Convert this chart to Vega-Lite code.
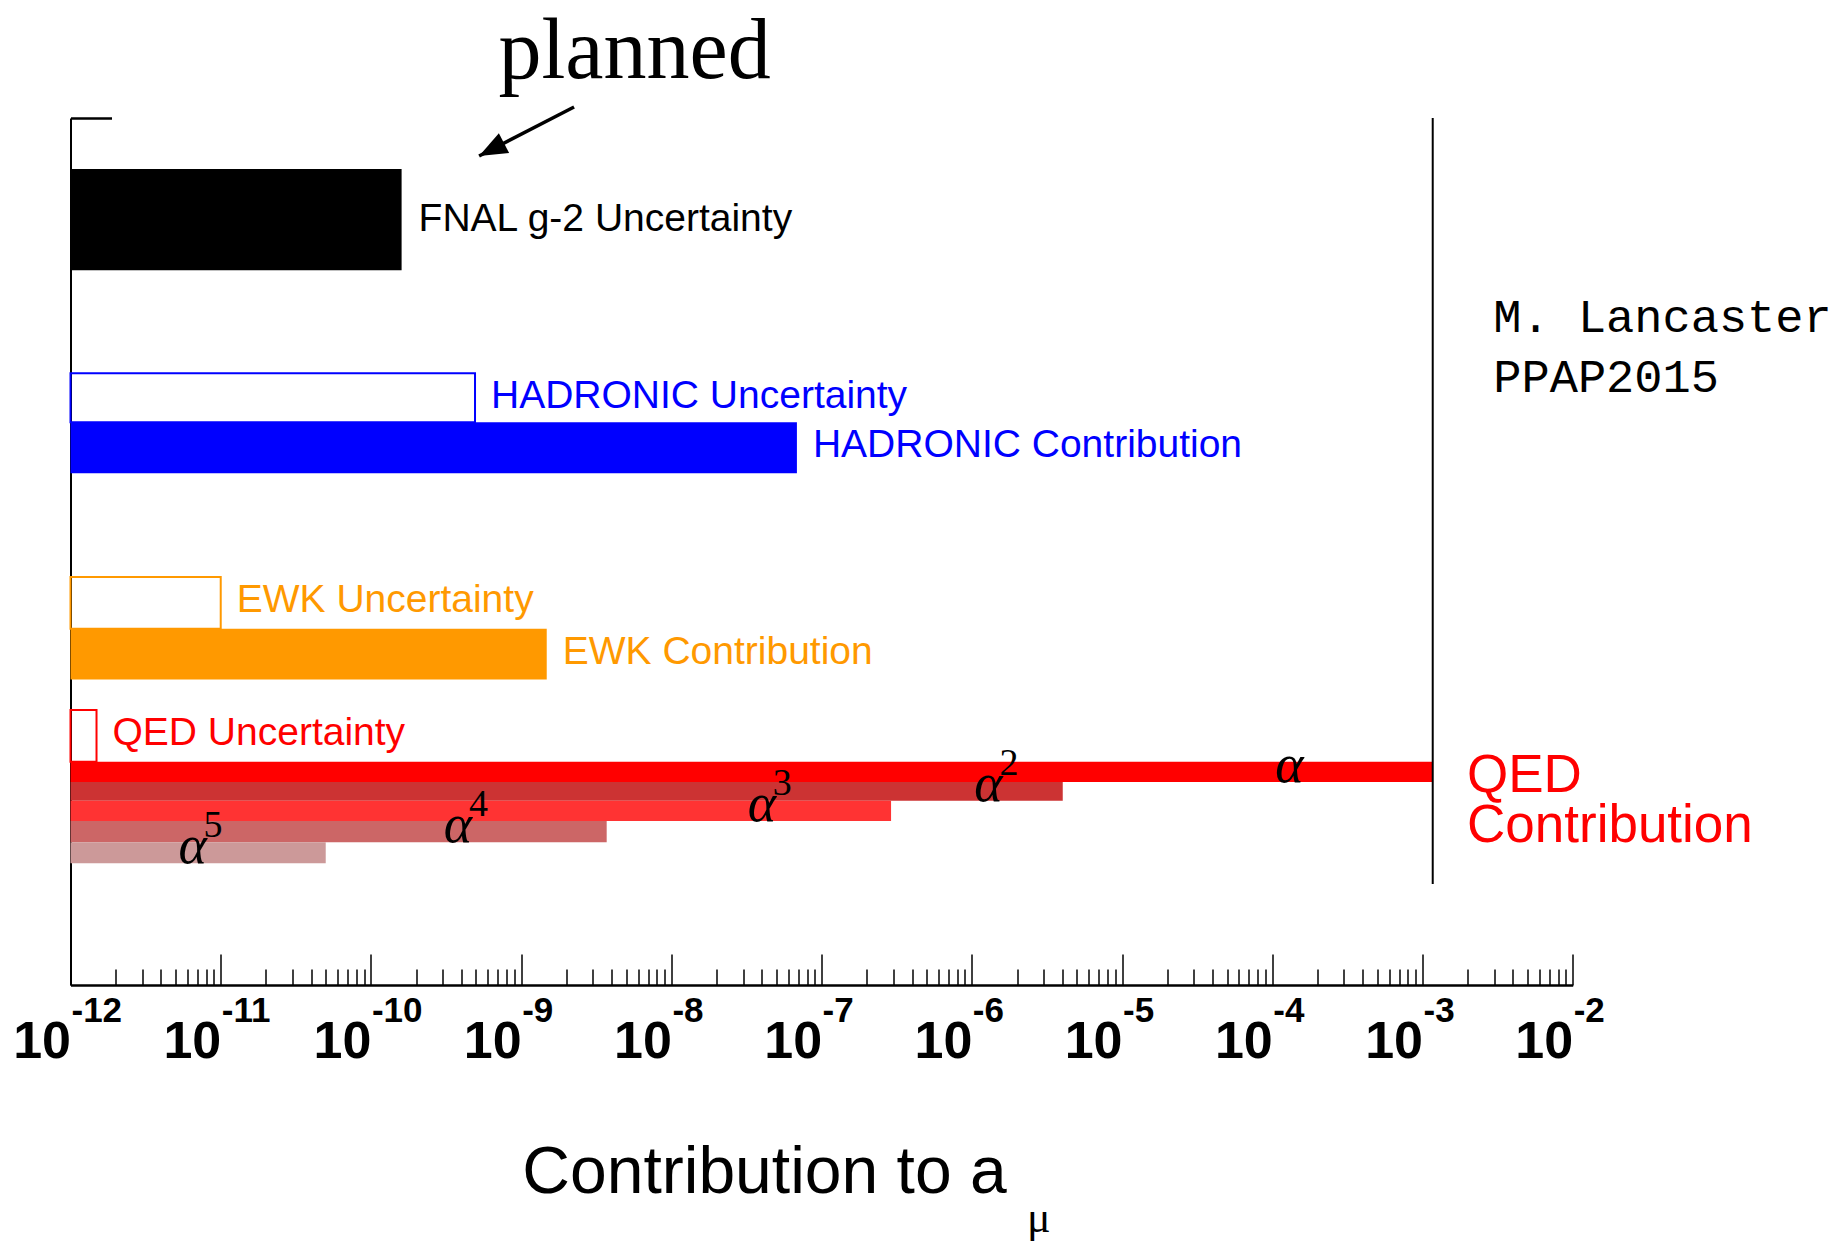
{
  "$schema": "https://vega.github.io/schema/vega-lite/v6.json",
  "width": 1502.2,
  "height": 867,
  "padding": {"left": 70.5, "top": 118, "right": 270.3, "bottom": 256},
  "autosize": {"type": "none"},
  "background": "white",
  "config": {"view": {"stroke": null}, "axis": {"grid": false}},
  "datasets": {
    "bars": [
      {"item": "FNAL g-2 Uncertainty", "group": "FNAL", "kind": "fnal", "value": 1.6e-10, "y0": 2.51, "y1": 7.5},
      {"item": "HADRONIC Uncertainty", "group": "HADRONIC", "kind": "unc", "value": 4.93e-10, "y0": 12.58, "y1": 14.99},
      {"item": "HADRONIC Contribution", "group": "HADRONIC", "kind": "contr", "value": 6.85e-8, "y0": 14.99, "y1": 17.5},
      {"item": "EWK Uncertainty", "group": "EWK", "kind": "unc", "value": 1.0e-11, "y0": 22.61, "y1": 25.16},
      {"item": "EWK Contribution", "group": "EWK", "kind": "contr", "value": 1.48e-9, "y0": 25.16, "y1": 27.66},
      {"item": "QED Uncertainty", "group": "QED", "kind": "unc", "value": 1.49e-12, "y0": 29.16, "y1": 31.71}
    ],
    "orders": [
      {"order": "α", "exp": "", "value": 1.17e-3, "y0": 31.71, "y1": 32.71, "label_x": 1.3e-4},
      {"order": "α²", "exp": "2", "value": 4.03e-6, "y0": 32.71, "y1": 33.63, "label_x": 1.29e-6},
      {"order": "α³", "exp": "3", "value": 2.9e-7, "y0": 33.63, "y1": 34.63, "label_x": 4.0e-8},
      {"order": "α⁴", "exp": "4", "value": 3.71e-9, "y0": 34.63, "y1": 35.68, "label_x": 3.8e-10},
      {"order": "α⁵", "exp": "5", "value": 5.0e-11, "y0": 35.68, "y1": 36.71, "label_x": 6.5e-12}
    ]
  },
  "resolve": {"scale": {"color": "independent"}},
  "layer": [
    {
      "data": {"name": "bars"},
      "transform": [{"filter": "datum.kind === 'unc'"}],
      "mark": {"type": "rect", "filled": false, "strokeWidth": 2},
      "encoding": {
        "x": {
          "field": "value", "type": "quantitative",
          "scale": {"type": "log", "domain": [1e-12, 1e-2], "nice": false},
          "axis": {
            "title": "Contribution to a",
            "values": [1e-12,2e-12,3e-12,4e-12,5e-12,6e-12,7e-12,8e-12,9e-12,1e-11,2e-11,3e-11,4e-11,5e-11,6e-11,7e-11,8e-11,9e-11,1e-10,2e-10,3e-10,4e-10,5e-10,6e-10,7e-10,8e-10,9e-10,1e-9,2e-9,3e-9,4e-9,5e-9,6e-9,7e-9,8e-9,9e-9,1e-8,2e-8,3e-8,4e-8,5e-8,6e-8,7e-8,8e-8,9e-8,1e-7,2e-7,3e-7,4e-7,5e-7,6e-7,7e-7,8e-7,9e-7,1e-6,2e-6,3e-6,4e-6,5e-6,6e-6,7e-6,8e-6,9e-6,1e-5,2e-5,3e-5,4e-5,5e-5,6e-5,7e-5,8e-5,9e-5,1e-4,2e-4,3e-4,4e-4,5e-4,6e-4,7e-4,8e-4,9e-4,1e-3,2e-3,3e-3,4e-3,5e-3,6e-3,7e-3,8e-3,9e-3,1e-2],
            "labelExpr": "abs(log(datum.value)/LN10 - round(log(datum.value)/LN10)) < 0.001 ? '10' : ''",
            "labelAlign": "right",
            "labelBaseline": "alphabetic",
            "labelFont": "Liberation Sans",
            "labelFontWeight": "bold",
            "labelFontSize": 52,
            "labelColor": "black",
            "labelPadding": 103,
            "labelFlush": false,
            "labelOverlap": false,
            "labelBound": false,
            "tickSize": {"condition": {"test": "abs(log(datum.value)/LN10 - round(log(datum.value)/LN10)) < 0.001", "value": -31}, "value": -16},
            "tickColor": "black",
            "tickWidth": 1.5,
            "domainColor": "black",
            "domainWidth": 2.5,
            "titleFont": "Liberation Sans",
            "titleFontSize": 66,
            "titleFontWeight": "normal",
            "titleColor": "black",
            "titleX": 693.5,
            "titleY": 207,
            "titleAlign": "center",
            "titleBaseline": "alphabetic",
            "grid": false
          }
        },
        "x2": {"datum": 1e-12},
        "y": {
          "field": "y0", "type": "quantitative",
          "scale": {"domain": [0, 42.71], "reverse": true, "nice": false, "zero": false},
          "axis": {"title": null, "values": [0], "labels": false, "tickSize": -41, "tickWidth": 2.5, "tickColor": "black", "domainColor": "black", "domainWidth": 2, "grid": false}
        },
        "y2": {"field": "y1"},
        "color": {
          "field": "group", "type": "nominal",
          "scale": {"domain": ["FNAL", "HADRONIC", "EWK", "QED"], "range": ["#000000", "#0000ff", "#ff9900", "#ff0000"]},
          "legend": null
        }
      }
    },
    {
      "data": {"name": "bars"},
      "transform": [{"filter": "datum.kind !== 'unc'"}],
      "mark": {"type": "rect"},
      "encoding": {
        "x": {"field": "value", "type": "quantitative"},
        "x2": {"datum": 1e-12},
        "y": {"field": "y0", "type": "quantitative"},
        "y2": {"field": "y1"},
        "color": {
          "field": "group", "type": "nominal",
          "scale": {"domain": ["FNAL", "HADRONIC", "EWK", "QED"], "range": ["#000000", "#0000ff", "#ff9900", "#ff0000"]},
          "legend": null
        }
      }
    },
    {
      "data": {"name": "orders"},
      "mark": {"type": "rect"},
      "encoding": {
        "x": {"field": "value", "type": "quantitative"},
        "x2": {"datum": 1e-12},
        "y": {"field": "y0", "type": "quantitative"},
        "y2": {"field": "y1"},
        "color": {
          "field": "order", "type": "nominal",
          "scale": {"domain": ["α", "α²", "α³", "α⁴", "α⁵"], "range": ["#ff0000", "#cc3333", "#ff3333", "#cc6666", "#cc9999"]},
          "legend": null
        }
      }
    },
    {
      "data": {"name": "orders"},
      "transform": [{"filter": "datum.order === 'α'"}],
      "mark": {"type": "rule", "strokeWidth": 2, "color": "black"},
      "encoding": {
        "x": {"field": "value", "type": "quantitative"},
        "y": {"datum": 0},
        "y2": {"datum": 37.73}
      }
    },
    {
      "data": {"name": "bars"},
      "transform": [{"filter": "datum.kind !== 'fnal'"}],
      "mark": {"type": "text", "align": "left", "baseline": "middle", "dx": 16, "dy": 23, "font": "Liberation Sans", "fontSize": 39},
      "encoding": {
        "x": {"field": "value", "type": "quantitative"},
        "y": {"field": "y0", "type": "quantitative"},
        "text": {"field": "item"},
        "color": {
          "field": "group", "type": "nominal",
          "scale": {"domain": ["FNAL", "HADRONIC", "EWK", "QED"], "range": ["#000000", "#0000ff", "#ff9900", "#ff0000"]},
          "legend": null
        }
      }
    },
    {
      "data": {"name": "bars"},
      "transform": [{"filter": "datum.kind === 'fnal'"}],
      "mark": {"type": "text", "align": "left", "baseline": "middle", "dx": 17, "dy": 50, "font": "Liberation Sans", "fontSize": 39, "color": "black"},
      "encoding": {
        "x": {"field": "value", "type": "quantitative"},
        "y": {"field": "y0", "type": "quantitative"},
        "text": {"field": "item"}
      }
    },
    {
      "data": {"name": "orders"},
      "mark": {"type": "text", "text": "α", "align": "center", "baseline": "alphabetic", "font": "Liberation Serif", "fontStyle": "italic", "fontSize": 54, "color": "black"},
      "encoding": {
        "x": {"field": "label_x", "type": "quantitative"},
        "y": {"field": "y1", "type": "quantitative"}
      }
    },
    {
      "data": {"name": "orders"},
      "transform": [{"filter": "datum.exp !== ''"}],
      "mark": {"type": "text", "align": "left", "baseline": "alphabetic", "dx": 11, "dy": -26, "font": "Liberation Serif", "fontSize": 38, "color": "black"},
      "encoding": {
        "x": {"field": "label_x", "type": "quantitative"},
        "y": {"field": "y1", "type": "quantitative"},
        "text": {"field": "exp"}
      }
    },
    {
      "data": {"values": [
        {"decade": 1e-12, "exp": "-12"}, {"decade": 1e-11, "exp": "-11"}, {"decade": 1e-10, "exp": "-10"},
        {"decade": 1e-9, "exp": "-9"}, {"decade": 1e-8, "exp": "-8"}, {"decade": 1e-7, "exp": "-7"},
        {"decade": 1e-6, "exp": "-6"}, {"decade": 1e-5, "exp": "-5"}, {"decade": 1e-4, "exp": "-4"},
        {"decade": 1e-3, "exp": "-3"}, {"decade": 1e-2, "exp": "-2"}
      ]},
      "mark": {"type": "text", "align": "left", "baseline": "alphabetic", "dx": 1, "font": "Liberation Sans", "fontWeight": "bold", "fontSize": 35, "color": "black"},
      "encoding": {
        "x": {"field": "decade", "type": "quantitative"},
        "y": {"datum": 44.52},
        "text": {"field": "exp"}
      }
    },
    {
      "data": {"values": [{"note": "μ", "at": 2.79e-6, "lane": 54.9}]},
      "mark": {"type": "text", "align": "center", "baseline": "alphabetic", "font": "Liberation Serif", "fontSize": 44, "color": "black"},
      "encoding": {
        "x": {"field": "at", "type": "quantitative"},
        "y": {"field": "lane", "type": "quantitative"},
        "text": {"field": "note"}
      }
    },
    {
      "data": {"values": [{"note": "planned", "at": 5.69e-9, "lane": -1.97}]},
      "mark": {"type": "text", "align": "center", "baseline": "alphabetic", "font": "Liberation Serif", "fontSize": 86, "color": "black"},
      "encoding": {
        "x": {"field": "at", "type": "quantitative"},
        "y": {"field": "lane", "type": "quantitative"},
        "text": {"field": "note"}
      }
    },
    {
      "data": {"values": [{"note": "M. Lancaster", "at": 2.96e-3, "lane": 10.53}, {"note": "PPAP2015", "at": 2.96e-3, "lane": 13.48}]},
      "mark": {"type": "text", "align": "left", "baseline": "alphabetic", "font": "Liberation Mono", "fontSize": 47, "color": "black"},
      "encoding": {
        "x": {"field": "at", "type": "quantitative"},
        "y": {"field": "lane", "type": "quantitative"},
        "text": {"field": "note"}
      }
    },
    {
      "data": {"values": [{"note": ["QED", "Contribution"], "at": 1.98e-3, "lane": 33.18}]},
      "mark": {"type": "text", "align": "left", "baseline": "alphabetic", "lineHeight": 50.7, "font": "Liberation Sans", "fontSize": 53, "color": "#ff0000"},
      "encoding": {
        "x": {"field": "at", "type": "quantitative"},
        "y": {"field": "lane", "type": "quantitative"},
        "text": {"field": "note"}
      }
    },
    {
      "data": {"values": [{"x0": 2.25e-9, "y0": -0.54, "x1": 5.25e-10, "y1": 1.87}]},
      "mark": {"type": "rule", "strokeWidth": 3.5, "color": "black"},
      "encoding": {
        "x": {"field": "x0", "type": "quantitative"},
        "y": {"field": "y0", "type": "quantitative"},
        "x2": {"field": "x1"},
        "y2": {"field": "y1"}
      }
    },
    {
      "data": {"values": [{"x1": 5.25e-10, "y1": 1.87}]},
      "mark": {"type": "point", "shape": "M0,0 L-1,-0.4 L-1,0.4 Z", "size": 3136, "angle": 152.7, "filled": true, "color": "black", "opacity": 1, "strokeWidth": 0},
      "encoding": {
        "x": {"field": "x1", "type": "quantitative"},
        "y": {"field": "y1", "type": "quantitative"}
      }
    }
  ]
}
